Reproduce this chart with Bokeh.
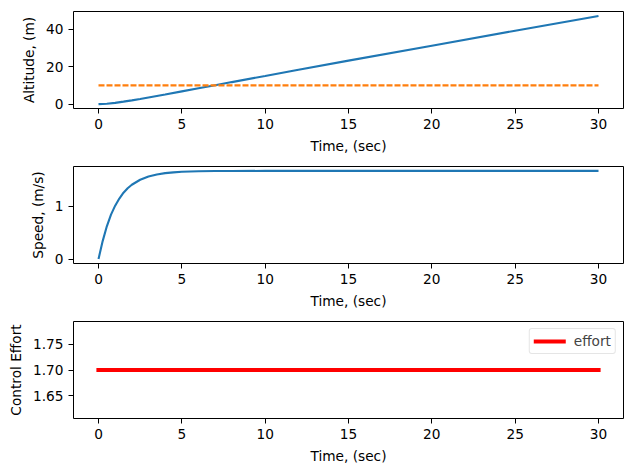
from bokeh.plotting import figure
from bokeh.layouts import column
from bokeh.models import Range1d, FixedTicker, Legend, LegendItem, PrintfTickFormatter
from bokeh.embed import file_html
from bokeh.resources import INLINE

# ---- data ----
alt_t = [0, 0.5, 1, 1.5, 2, 2.5, 3, 3.5, 4, 5, 6, 7, 8, 10, 12, 15, 20, 25, 30]
alt_m = [0, 0.2, 0.65, 1.3, 2.0, 2.75, 3.55, 4.35, 5.15, 6.8, 8.45, 10.1, 11.75,
         15.0, 18.3, 23.2, 31.2, 39.2, 47.1]
target_t = [0, 30]
target_m = [10, 10]

spd_t = [0, 0.25, 0.5, 0.75, 1, 1.25, 1.5, 1.75, 2, 2.5, 3, 3.5, 4, 4.5, 5, 6, 7,
         8, 10, 15, 20, 25, 30]
spd_v = [0, 0.34, 0.62, 0.84, 1.01, 1.145, 1.255, 1.34, 1.405, 1.50, 1.56, 1.60,
         1.625, 1.64, 1.65, 1.66, 1.664, 1.666, 1.667, 1.667, 1.667, 1.667, 1.667]

eff_t = [0, 30]
eff_u = [1.7, 1.7]

x_ticks = [0, 5, 10, 15, 20, 25, 30]
alt_ticks = [0, 20, 40]
spd_ticks = [0, 1]
eff_ticks = [1.65, 1.70, 1.75]

FONT = "DejaVu Sans"
FS = "13.7px"
BLUE = "#1f77b4"
ORANGE = "#ff7f0e"
RED = "#ff0000"


def pad(lo, hi, frac=0.05):
    d = (hi - lo) * frac
    return lo - d, hi + d


def make_fig(height, yr, yticks, ylabel, top, bottom):
    p = figure(width=624, height=height, output_backend="svg", toolbar_location=None,
               x_range=Range1d(*pad(min(x_ticks), max(x_ticks))),
               y_range=Range1d(*yr),
               min_border_left=73, min_border_right=1, min_border_top=top,
               min_border_bottom=bottom)
    p.background_fill_color = "white"
    p.border_fill_color = "white"
    p.outline_line_color = "black"
    p.outline_line_alpha = 1
    p.outline_line_width = 1
    p.grid.visible = False
    p.xaxis.ticker = FixedTicker(ticks=x_ticks)
    p.yaxis.ticker = FixedTicker(ticks=yticks)
    p.xaxis.axis_label = "Time, (sec)"
    p.yaxis.axis_label = ylabel
    for ax in (p.xaxis, p.yaxis):
        ax.axis_line_color = None
        ax.major_tick_out = 5
        ax.major_tick_in = 0
        ax.minor_tick_line_color = None
        ax.major_tick_line_color = "black"
        ax.major_tick_line_width = 1
        ax.major_label_text_font = FONT
        ax.major_label_text_font_size = FS
        ax.major_label_text_color = "black"
        ax.major_label_standoff = 5
        ax.axis_label_text_font = FONT
        ax.axis_label_text_font_size = FS
        ax.axis_label_text_font_style = "normal"
        ax.axis_label_text_color = "black"
        ax.axis_label_standoff = 6
    return p


p1 = make_fig(163, pad(min(alt_m), max(alt_m)), alt_ticks, "Altitude, (m)", 11, 55)
p1.line(alt_t, alt_m, line_color=BLUE, line_width=2.1)
p1.line(target_t, target_m, line_color=ORANGE, line_width=2.1, line_dash="6 2")

p2 = make_fig(155, pad(min(spd_v), max(spd_v)), spd_ticks, "Speed, (m/s)", 3, 55)
p2.line(spd_t, spd_v, line_color=BLUE, line_width=2.1)

lo = eff_u[0] * 0.95
hi = eff_u[0] * 1.05
p3 = make_fig(150, pad(lo, hi), eff_ticks, "Control Effort", 3, 50)
p3.yaxis.formatter = PrintfTickFormatter(format="%.2f")
r = p3.line(eff_t, eff_u, line_color=RED, line_width=4.2, line_cap="square")
leg = Legend(items=[LegendItem(label="effort", renderers=[r])], location="top_right")
leg.margin = 7
leg.padding = 4
leg.spacing = 0
leg.glyph_width = 32
leg.glyph_height = 16
leg.label_standoff = 8
leg.label_text_font = FONT
leg.label_text_font_size = FS
leg.label_height = 16
leg.border_line_color = "#cccccc"
leg.border_line_width = 1
leg.border_radius = 3
leg.background_fill_alpha = 0.8
p3.add_layout(leg)

layout = column(p1, p2, p3, spacing=0)
open("out.html", "w").write(file_html(layout, INLINE))
